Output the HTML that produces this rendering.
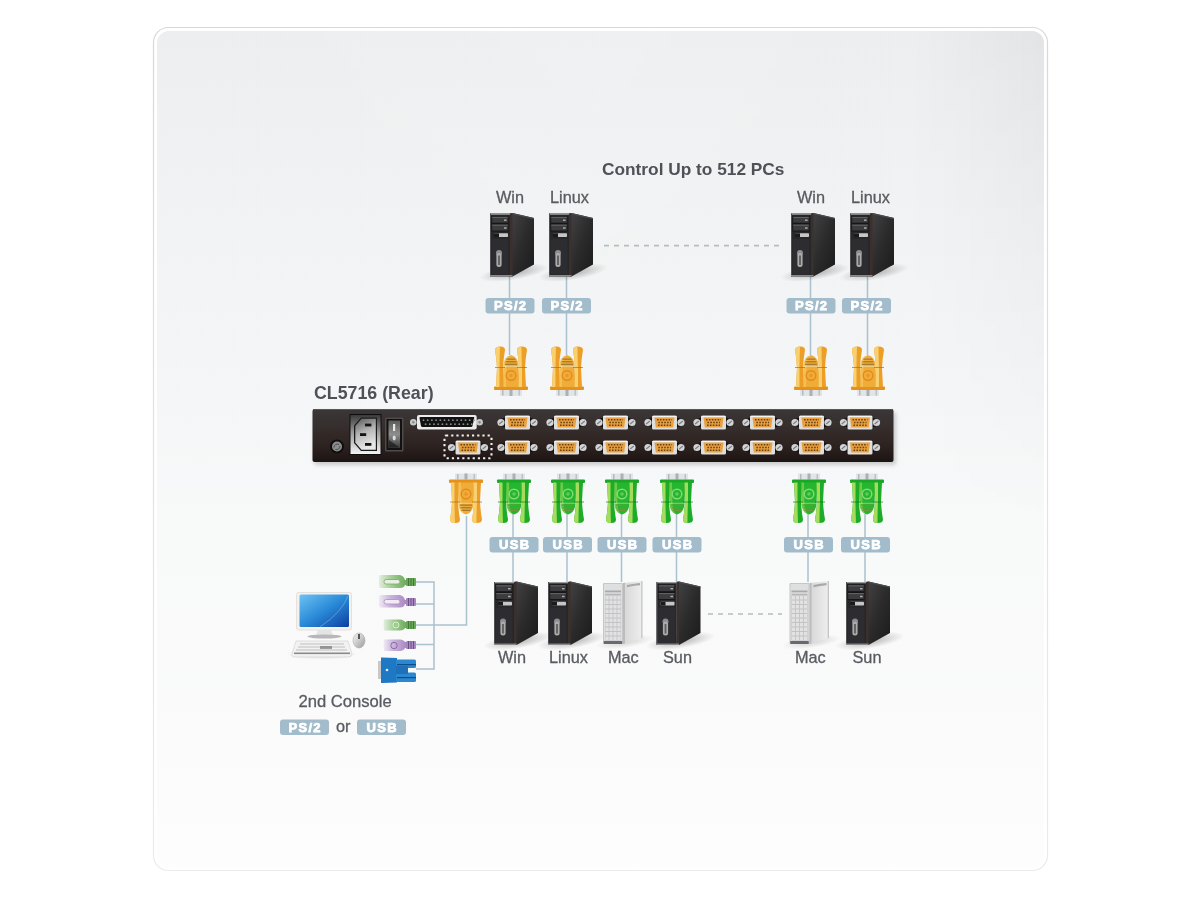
<!DOCTYPE html>
<html><head><meta charset="utf-8">
<style>
html,body{margin:0;padding:0;background:#fff;width:1200px;height:900px;overflow:hidden}
svg{position:absolute;left:0;top:0;display:block;will-change:transform}
text{font-family:"Liberation Sans",sans-serif}
.lbl{font-size:16.3px;fill:#585c61;stroke:#585c61;stroke-width:0.3px}
.ttl{font-size:17.3px;font-weight:bold;fill:#4e5257}
.bt{font-size:13px;font-weight:bold;fill:#fff;letter-spacing:1.3px;stroke:#fff;stroke-width:0.75px}
</style></head>
<body>
<svg width="1200" height="900" viewBox="0 0 1200 900">
<defs>
  <linearGradient id="panelG" x1="0" y1="0" x2="0" y2="1">
    <stop offset="0" stop-color="#eceef0"/>
    <stop offset="0.25" stop-color="#f1f3f4"/>
    <stop offset="0.45" stop-color="#f5f6f7"/>
    <stop offset="0.6" stop-color="#f8f9f9"/>
    <stop offset="0.8" stop-color="#fafafa"/>
    <stop offset="1" stop-color="#fdfdfd"/>
  </linearGradient>
  <linearGradient id="barG" x1="0" y1="0" x2="0" y2="1">
    <stop offset="0" stop-color="#3a3737"/>
    <stop offset="0.35" stop-color="#352e2c"/>
    <stop offset="0.7" stop-color="#2d2220"/>
    <stop offset="1" stop-color="#1c1413"/>
  </linearGradient>
  <linearGradient id="sideG" x1="0" y1="0" x2="1" y2="1">
    <stop offset="0" stop-color="#444345"/>
    <stop offset="0.5" stop-color="#2c2b2c"/>
    <stop offset="1" stop-color="#1c1b1c"/>
  </linearGradient>
  <linearGradient id="macSideG" x1="0" y1="0" x2="1" y2="0">
    <stop offset="0" stop-color="#d6d6d7"/>
    <stop offset="1" stop-color="#eeeeef"/>
  </linearGradient>
  <linearGradient id="sockG" x1="0" y1="0" x2="0.3" y2="1">
    <stop offset="0" stop-color="#5a5a5a"/>
    <stop offset="0.5" stop-color="#b4b4b4"/>
    <stop offset="1" stop-color="#e8e8e8"/>
  </linearGradient>
  <linearGradient id="frameG" x1="0" y1="0" x2="0" y2="1">
    <stop offset="0" stop-color="#3a3a3a"/>
    <stop offset="0.45" stop-color="#9c9c9c"/>
    <stop offset="1" stop-color="#f4f4f4"/>
  </linearGradient>
  <linearGradient id="rockG" x1="0" y1="0" x2="0" y2="1">
    <stop offset="0" stop-color="#5a5a5a"/>
    <stop offset="0.5" stop-color="#8e8e8e"/>
    <stop offset="1" stop-color="#3a3a3a"/>
  </linearGradient>
  <linearGradient id="scrG" x1="0" y1="0" x2="1" y2="1">
    <stop offset="0" stop-color="#6cc2f2"/>
    <stop offset="0.5" stop-color="#2a8ad8"/>
    <stop offset="1" stop-color="#0c3ea0"/>
  </linearGradient>
  <linearGradient id="mouseG" x1="0" y1="0" x2="1" y2="1">
    <stop offset="0" stop-color="#f8f8f8"/>
    <stop offset="1" stop-color="#9a9a9a"/>
  </linearGradient>
  <linearGradient id="cgG" x1="0" y1="0" x2="1" y2="0">
    <stop offset="0" stop-color="#e4eee0"/>
    <stop offset="0.4" stop-color="#a8d09a"/>
    <stop offset="1" stop-color="#6aa85a"/>
  </linearGradient>
  <linearGradient id="cpG" x1="0" y1="0" x2="1" y2="0">
    <stop offset="0" stop-color="#f0eaf4"/>
    <stop offset="0.4" stop-color="#cab4dc"/>
    <stop offset="1" stop-color="#a888c0"/>
  </linearGradient>
  <filter id="blur3" x="-5%" y="-30%" width="110%" height="160%"><feGaussianBlur stdDeviation="2"/></filter>
  <linearGradient id="borderG" x1="0" y1="0" x2="0" y2="1">
    <stop offset="0" stop-color="#d8d8d8"/>
    <stop offset="1" stop-color="#ebebeb"/>
  </linearGradient>
  <linearGradient id="vigG" x1="0" y1="0" x2="1" y2="0">
    <stop offset="0" stop-color="#fff" stop-opacity="0"/>
    <stop offset="0.5" stop-color="#fff" stop-opacity="0.15"/>
    <stop offset="0.85" stop-color="#fff" stop-opacity="0"/>
    <stop offset="0.85" stop-color="#000" stop-opacity="0"/>
    <stop offset="1" stop-color="#000" stop-opacity="0.04"/>
  </linearGradient>
  <linearGradient id="vigMG" x1="0" y1="0" x2="0" y2="1">
    <stop offset="0" stop-color="#fff"/>
    <stop offset="0.6" stop-color="#000"/>
  </linearGradient>
  <mask id="vigM" maskUnits="userSpaceOnUse" x="150" y="25" width="900" height="850"><rect x="150" y="25" width="900" height="850" fill="url(#vigMG)"/></mask>
  <radialGradient id="shadowG" cx="0.5" cy="0.5" r="0.5">
    <stop offset="0" stop-color="#000" stop-opacity="0.28"/>
    <stop offset="1" stop-color="#000" stop-opacity="0"/>
  </radialGradient>

  <!-- black tower: origin = front top-left -->
  <g id="tower">
    <ellipse cx="24" cy="59" rx="35" ry="7.5" fill="url(#shadowG)" transform="rotate(-9 24 59)"/>
    <path d="M20,0 L22.5,-0.5 L44,4.5 L44,51 L22.5,63 L20,63 Z" fill="url(#sideG)"/>
    <path d="M20,0 L22.5,-0.5 L22.5,63 L20,63 Z" fill="#3b302b"/>
    <path d="M22.5,-0.5 L44,4.5 L44,5.8 L22.5,0.8 Z" fill="#4c4c4e"/>
    <rect x="0" y="0" width="20" height="63" fill="#27272a"/>
    <rect x="0" y="0" width="20" height="1.3" fill="#9c9c9c"/>
    <rect x="0" y="0" width="1" height="63" fill="#505052"/>
    <rect x="1.5" y="2.5" width="17" height="15.5" fill="#161617"/>
    <rect x="2.2" y="3.2" width="15.6" height="6" fill="#3c3c3f"/>
    <rect x="2.2" y="3.4" width="15.6" height="0.9" fill="#6a6a6e"/>
    <rect x="14" y="6" width="2.6" height="1.4" fill="#b0b0b0"/>
    <rect x="2.2" y="11" width="15.6" height="6" fill="#3c3c3f"/>
    <rect x="2.2" y="11.2" width="15.6" height="0.9" fill="#6a6a6e"/>
    <rect x="14" y="13.8" width="2.6" height="1.4" fill="#b0b0b0"/>
    <rect x="4" y="19.8" width="14" height="3.8" rx="0.8" fill="#c6c6c6"/>
    <rect x="4" y="19.8" width="5" height="3.8" fill="#1a1a1a"/>
    <rect x="1.5" y="25.5" width="17" height="35.5" fill="#2d2d31"/>
    <circle cx="9" cy="39.5" r="3" fill="#8e8e8e"/>
    <rect x="6.4" y="39.5" width="5.2" height="14" rx="2.5" fill="#ababab"/>
    <rect x="8.1" y="42" width="1.8" height="9.5" fill="#5e5e5e"/>
    <rect x="0" y="61.5" width="22.5" height="1.5" fill="#8a8a8a"/>
  </g>

  <!-- mac tower -->
  <g id="mac">
    <ellipse cx="22" cy="59" rx="30" ry="6" fill="url(#shadowG)" opacity="0.55" transform="rotate(-8 22 59)"/>
    <path d="M20,0 L39,-2 L39,55 L20,61 Z" fill="url(#macSideG)"/>
    <path d="M38.2,-2 L39.5,-2 L39.5,55 L38.2,55.4 Z" fill="#c4c4c4"/>
    <path d="M20,0 L22,-0.2 L22,60.4 L20,61 Z" fill="#bcbcbd"/>
    <path d="M24,2 Q31,0.3 37,0 L37,2.2 Q31,2.6 24,4.2 Z" fill="#a8a8aa"/>
    <rect x="0" y="0" width="20" height="61" rx="1.2" fill="#c6c6c7"/>
    <rect x="1" y="1" width="18" height="57" fill="#dedfe0"/>
    <rect x="2" y="7.5" width="16" height="1.8" fill="#a9a9ab"/>
    <rect x="2" y="10.8" width="16" height="1.5" fill="#b6b6b8"/>
    <rect x="2" y="12.5" width="16" height="45" fill="#c2c2c4"/>
    <g fill="#e2e2e3"><rect x="2.4" y="13.0" width="3.2" height="3.5"/><rect x="6.4" y="13.0" width="3.2" height="3.5"/><rect x="10.4" y="13.0" width="3.2" height="3.5"/><rect x="14.4" y="13.0" width="3.2" height="3.5"/><rect x="2.4" y="17.5" width="3.2" height="3.5"/><rect x="6.4" y="17.5" width="3.2" height="3.5"/><rect x="10.4" y="17.5" width="3.2" height="3.5"/><rect x="14.4" y="17.5" width="3.2" height="3.5"/><rect x="2.4" y="22.0" width="3.2" height="3.5"/><rect x="6.4" y="22.0" width="3.2" height="3.5"/><rect x="10.4" y="22.0" width="3.2" height="3.5"/><rect x="14.4" y="22.0" width="3.2" height="3.5"/><rect x="2.4" y="26.5" width="3.2" height="3.5"/><rect x="6.4" y="26.5" width="3.2" height="3.5"/><rect x="10.4" y="26.5" width="3.2" height="3.5"/><rect x="14.4" y="26.5" width="3.2" height="3.5"/><rect x="2.4" y="31.0" width="3.2" height="3.5"/><rect x="6.4" y="31.0" width="3.2" height="3.5"/><rect x="10.4" y="31.0" width="3.2" height="3.5"/><rect x="14.4" y="31.0" width="3.2" height="3.5"/><rect x="2.4" y="35.5" width="3.2" height="3.5"/><rect x="6.4" y="35.5" width="3.2" height="3.5"/><rect x="10.4" y="35.5" width="3.2" height="3.5"/><rect x="14.4" y="35.5" width="3.2" height="3.5"/><rect x="2.4" y="40.0" width="3.2" height="3.5"/><rect x="6.4" y="40.0" width="3.2" height="3.5"/><rect x="10.4" y="40.0" width="3.2" height="3.5"/><rect x="14.4" y="40.0" width="3.2" height="3.5"/><rect x="2.4" y="44.5" width="3.2" height="3.5"/><rect x="6.4" y="44.5" width="3.2" height="3.5"/><rect x="10.4" y="44.5" width="3.2" height="3.5"/><rect x="14.4" y="44.5" width="3.2" height="3.5"/><rect x="2.4" y="49.0" width="3.2" height="3.5"/><rect x="6.4" y="49.0" width="3.2" height="3.5"/><rect x="10.4" y="49.0" width="3.2" height="3.5"/><rect x="14.4" y="49.0" width="3.2" height="3.5"/><rect x="2.4" y="53.5" width="3.2" height="3.5"/><rect x="6.4" y="53.5" width="3.2" height="3.5"/><rect x="10.4" y="53.5" width="3.2" height="3.5"/><rect x="14.4" y="53.5" width="3.2" height="3.5"/></g>
    <rect x="0.8" y="58" width="18.4" height="3" fill="#6a6a6c"/>
  </g>

  <!-- connector (plate on top, posts hanging down). origin top-left of plate, width 34 -->
  <g id="connG">
    <rect x="6" y="-6" width="22" height="6" fill="#e2e5e8"/>
    <rect x="8" y="-5.5" width="1.5" height="5.5" fill="#b4bac0"/><rect x="15.5" y="-6" width="3" height="6" fill="#aab0b6"/><rect x="24.5" y="-5.5" width="1.5" height="5.5" fill="#bcc2c8"/>
    <rect x="0" y="0" width="34" height="3.5" rx="1" fill="#1aa626"/>
    <path d="M8.5,3 L25.5,3 L24.5,24 Q24,33 17,35 Q10,33 9.5,24 Z" fill="#25b52e"/>
    <path d="M8.5,3 L12,3 L12.5,24 Q13,31 15,34 Q10,33 9.5,24 Z" fill="#a6dc5e" opacity="0.55"/>
    <circle cx="17" cy="14.5" r="4.8" fill="none" stroke="#86dc78" stroke-width="1.4"/>
    <circle cx="17" cy="14.5" r="1.8" fill="#86dc78" opacity="0.6"/>
    <g fill="#6a9a3a"><rect x="11" y="25" width="12" height="1.3"/><rect x="11.5" y="27.6" width="11" height="1.3"/><rect x="12.5" y="30.2" width="9" height="1.3"/></g>
    <rect x="9" y="23.3" width="16" height="0.9" fill="#e8fff0" opacity="0.5"/>
    <path d="M2,3 L9.5,3 L9,22 Q9.5,32 11,40 Q11,43.5 6.5,43.5 Q1,43.5 1,40 Q2.5,32 3,22 Z" fill="#1cac28"/>
    <path d="M2,3 L5.5,3 L5.5,22 Q5.5,32 6,43.5 Q1,43.5 1,40 Q2.5,32 3,22 Z" fill="#a6dc5e"/>
    <path d="M24.5,3 L32,3 L31,22 Q31.5,32 33,40 Q33,43.5 27.5,43.5 Q23,43.5 23,40 Q24.5,32 25,22 Z" fill="#1cac28"/>
    <path d="M24.5,3 L28,3 L28,22 Q27.5,32 27.5,43.5 Q23,43.5 23,40 Q24.5,32 25,22 Z" fill="#a6dc5e"/>
    <rect x="1" y="22" width="10" height="1" fill="#0d7a18" opacity="0.7"/>
    <rect x="23" y="22" width="10" height="1" fill="#0d7a18" opacity="0.7"/>
  </g>
  <g id="connO">
    <rect x="6" y="-6" width="22" height="6" fill="#e2e5e8"/>
    <rect x="8" y="-5.5" width="1.5" height="5.5" fill="#b4bac0"/><rect x="15.5" y="-6" width="3" height="6" fill="#aab0b6"/><rect x="24.5" y="-5.5" width="1.5" height="5.5" fill="#bcc2c8"/>
    <rect x="0" y="0" width="34" height="3.5" rx="1" fill="#e4921c"/>
    <path d="M8.5,3 L25.5,3 L24.5,24 Q24,33 17,35 Q10,33 9.5,24 Z" fill="#f0ac38"/>
    <path d="M8.5,3 L12,3 L12.5,24 Q13,31 15,34 Q10,33 9.5,24 Z" fill="#f8d070" opacity="0.55"/>
    <circle cx="17" cy="14.5" r="4.8" fill="none" stroke="#e48a1e" stroke-width="1.4"/>
    <circle cx="17" cy="14.5" r="1.8" fill="#e48a1e" opacity="0.6"/>
    <g fill="#a87a2a"><rect x="11" y="25" width="12" height="1.3"/><rect x="11.5" y="27.6" width="11" height="1.3"/><rect x="12.5" y="30.2" width="9" height="1.3"/></g>
    <rect x="9" y="23.3" width="16" height="0.9" fill="#e8fff0" opacity="0.5"/>
    <path d="M2,3 L9.5,3 L9,22 Q9.5,32 11,40 Q11,43.5 6.5,43.5 Q1,43.5 1,40 Q2.5,32 3,22 Z" fill="#ec9e26"/>
    <path d="M2,3 L5.5,3 L5.5,22 Q5.5,32 6,43.5 Q1,43.5 1,40 Q2.5,32 3,22 Z" fill="#f8d070"/>
    <path d="M24.5,3 L32,3 L31,22 Q31.5,32 33,40 Q33,43.5 27.5,43.5 Q23,43.5 23,40 Q24.5,32 25,22 Z" fill="#ec9e26"/>
    <path d="M24.5,3 L28,3 L28,22 Q27.5,32 27.5,43.5 Q23,43.5 23,40 Q24.5,32 25,22 Z" fill="#f8d070"/>
    <rect x="1" y="22" width="10" height="1" fill="#b86a10" opacity="0.7"/>
    <rect x="23" y="22" width="10" height="1" fill="#b86a10" opacity="0.7"/>
  </g>
  
  <!-- VGA port on bar: origin = body top-left, body 25x14 -->
  <g id="port">
    <ellipse cx="12.5" cy="7" rx="19.5" ry="6.5" fill="#141110"/>
    <circle cx="-4" cy="7" r="3.6" fill="#d2d4d6"/><path d="M-5.8,8.5 L-2.2,5.5" stroke="#7a7e82" stroke-width="1.1"/>
    <circle cx="29" cy="7" r="3.6" fill="#d2d4d6"/><path d="M27.2,8.5 L30.8,5.5" stroke="#7a7e82" stroke-width="1.1"/>
    <rect x="0" y="0" width="25" height="14" rx="1.5" fill="#dededc"/>
    <rect x="0.5" y="0.5" width="24" height="1" fill="#f4f4f2"/>
    <path d="M2.5,2 L22.5,2 L21.2,12 L3.8,12 Z" fill="#e8a040"/>
    <g stroke="#6a4210" stroke-width="1.6" stroke-dasharray="1.6,1.3">
      <line x1="5" y1="4.3" x2="20" y2="4.3"/><line x1="6.4" y1="7" x2="19" y2="7"/><line x1="6" y1="9.7" x2="19" y2="9.7"/>
    </g>
  </g>

  <g id="badgePS">
    <rect x="0" y="0" width="49" height="15.5" rx="3" fill="#a3bccb"/>
    <text x="25.2" y="12.2" text-anchor="middle" class="bt">PS/2</text>
  </g>
  <g id="badgeUSB">
    <rect x="0" y="0" width="49" height="15.5" rx="3" fill="#a3bccb"/>
    <text x="25.2" y="12.2" text-anchor="middle" class="bt">USB</text>
  </g>
</defs>

<!-- panel -->
<rect x="153.5" y="27.5" width="894" height="843" rx="15" fill="#fff" stroke="url(#borderG)" stroke-width="1.2"/>
<rect x="157" y="31" width="887" height="836" rx="12" fill="url(#panelG)"/>
<rect x="157" y="31" width="887" height="836" rx="12" fill="url(#vigG)" mask="url(#vigM)"/>

<!-- title -->
<text x="602" y="175" class="ttl">Control Up to 512 PCs</text>
<text x="314" y="399" class="ttl" style="font-size:17.8px">CL5716 (Rear)</text>

<!-- top labels -->
<text x="496" y="203" class="lbl">Win</text>
<text x="550" y="203" class="lbl">Linux</text>
<text x="797" y="203" class="lbl">Win</text>
<text x="851" y="203" class="lbl">Linux</text>

<!-- cables top -->
<g stroke="#abc1ce" stroke-width="1.5">
  <line x1="509.5" y1="276" x2="509.5" y2="355"/>
  <line x1="566.5" y1="276" x2="566.5" y2="355"/>
  <line x1="810.5" y1="276" x2="810.5" y2="355"/>
  <line x1="867.5" y1="276" x2="867.5" y2="355"/>
</g>
<line x1="604" y1="245.6" x2="782" y2="245.6" stroke="#b3bdc2" stroke-width="1.6" stroke-dasharray="5,5"/>

<!-- top towers -->
<use href="#tower" x="490" y="213.5"/>
<use href="#tower" x="549" y="213.5"/>
<use href="#tower" x="791" y="213.5"/>
<use href="#tower" x="850" y="213.5"/>

<use href="#badgePS" x="485.5" y="298"/>
<use href="#badgePS" x="542" y="298"/>
<use href="#badgePS" x="786.5" y="298"/>
<use href="#badgePS" x="842" y="298"/>

<!-- top connectors (flipped) -->
<g transform="translate(494,390) scale(1,-1)"><use href="#connO"/></g>
<g transform="translate(550,390) scale(1,-1)"><use href="#connO"/></g>
<g transform="translate(794,390) scale(1,-1)"><use href="#connO"/></g>
<g transform="translate(851,390) scale(1,-1)"><use href="#connO"/></g>

<!-- device bar -->
<rect x="314" y="412" width="582" height="53" rx="3" fill="#000" opacity="0.18" filter="url(#blur3)"/>
<rect x="312.5" y="409" width="581" height="53" rx="2" fill="url(#barG)"/>
<rect x="313" y="409" width="580" height="1" fill="#5a5452"/>

<!-- bar contents -->
<g>
  <circle cx="337" cy="446.5" r="7" fill="#100e0d"/>
  <circle cx="337" cy="446.5" r="5" fill="#8a8c8e"/>
  <path d="M333.8,447.5 Q335,443 339,444.5 M340,446 Q339.5,450 335.5,449.5" stroke="#4a4a4a" stroke-width="1" fill="none"/>
  <!-- power socket -->
  <rect x="349.5" y="414" width="32" height="41" fill="#0e0e0e"/>
  <rect x="350.5" y="415" width="30" height="39" fill="url(#frameG)"/>
  <path d="M361,417.5 L377,417.5 L377,451 L361,451 L354,443 L354,425.5 Z" fill="#1a1a1a"/>
  <path d="M361.5,418.8 L375.8,418.8 L375.8,449.7 L361.5,449.7 L355.3,442.5 L355.3,426 Z" fill="url(#sockG)"/>
  <rect x="365" y="423.6" width="6.4" height="2.8" fill="#141414"/>
  <rect x="360" y="433.2" width="6.2" height="2.8" fill="#141414"/>
  <rect x="365" y="443" width="6.4" height="2.8" fill="#141414"/>
  <!-- switch -->
  <rect x="385" y="417.5" width="18.5" height="34" rx="1.5" fill="#4e4b4a"/>
  <rect x="386.5" y="419" width="15.5" height="31" fill="#121212"/>
  <path d="M388.5,420.5 L400,420.5 L400,448 L388.5,448 Z" fill="url(#rockG)"/>
  <rect x="393" y="424" width="2.2" height="7" fill="#e8e8e8"/>
  <ellipse cx="394.2" cy="438" rx="1.6" ry="2.4" fill="#dcdcdc"/>
  <path d="M389,440 L399.5,447.5 L389,447.5 Z" fill="#1a1a1a" opacity="0.7"/>
  <!-- db25 -->
  <circle cx="413.3" cy="422.2" r="3.3" fill="#c8cacc"/><circle cx="413.3" cy="422.2" r="1.2" fill="#8a8a8a"/>
  <circle cx="479.6" cy="422.2" r="3.3" fill="#c8cacc"/><circle cx="479.6" cy="422.2" r="1.2" fill="#8a8a8a"/>
  <rect x="417" y="415" width="59.7" height="14.6" rx="2" fill="#ececec"/>
  <path d="M420.5,417 L473.5,417 Q474.5,417 474.2,418 L472.5,426 Q472.2,427 471,427 L422.5,427 Q421.3,427 421,426 L419.5,418 Q419.3,417 420.5,417 Z" fill="#121212"/>
  <g fill="#8c8c8c"><circle cx="423.5" cy="420.2" r="0.9"/><circle cx="427.7" cy="420.2" r="0.9"/><circle cx="431.9" cy="420.2" r="0.9"/><circle cx="436.1" cy="420.2" r="0.9"/><circle cx="440.3" cy="420.2" r="0.9"/><circle cx="444.5" cy="420.2" r="0.9"/><circle cx="448.7" cy="420.2" r="0.9"/><circle cx="452.9" cy="420.2" r="0.9"/><circle cx="457.1" cy="420.2" r="0.9"/><circle cx="461.3" cy="420.2" r="0.9"/><circle cx="465.5" cy="420.2" r="0.9"/><circle cx="469.7" cy="420.2" r="0.9"/><circle cx="473.9" cy="420.2" r="0.9"/><circle cx="425.6" cy="424.2" r="0.9"/><circle cx="429.8" cy="424.2" r="0.9"/><circle cx="434.0" cy="424.2" r="0.9"/><circle cx="438.2" cy="424.2" r="0.9"/><circle cx="442.4" cy="424.2" r="0.9"/><circle cx="446.6" cy="424.2" r="0.9"/><circle cx="450.8" cy="424.2" r="0.9"/><circle cx="455.0" cy="424.2" r="0.9"/><circle cx="459.2" cy="424.2" r="0.9"/><circle cx="463.4" cy="424.2" r="0.9"/><circle cx="467.6" cy="424.2" r="0.9"/><circle cx="471.8" cy="424.2" r="0.9"/></g>
  <!-- dotted console box -->
  <rect x="444.5" y="435.5" width="47" height="22.8" rx="1.5" fill="none" stroke="#f0f0f0" stroke-width="2.1" stroke-dasharray="2.2,3"/>
  <use href="#port" x="455.5" y="440.5"/>
  <!-- ports -->
  <use href="#port" x="505" y="415.5"/><use href="#port" x="554" y="415.5"/><use href="#port" x="603" y="415.5"/><use href="#port" x="652" y="415.5"/>
  <use href="#port" x="701" y="415.5"/><use href="#port" x="750" y="415.5"/><use href="#port" x="799" y="415.5"/><use href="#port" x="847.5" y="415.5"/>
  <use href="#port" x="505" y="440.5"/><use href="#port" x="554" y="440.5"/><use href="#port" x="603" y="440.5"/><use href="#port" x="652" y="440.5"/>
  <use href="#port" x="701" y="440.5"/><use href="#port" x="750" y="440.5"/><use href="#port" x="799" y="440.5"/><use href="#port" x="847.5" y="440.5"/>
</g>

<!-- bottom cables -->
<g stroke="#abc1ce" stroke-width="1.5" fill="none">
  <line x1="513" y1="514" x2="513" y2="582"/>
  <line x1="567" y1="514" x2="567" y2="582"/>
  <line x1="621.5" y1="514" x2="621.5" y2="582"/>
  <line x1="676.5" y1="514" x2="676.5" y2="582"/>
  <line x1="808" y1="514" x2="808" y2="582"/>
  <line x1="865" y1="514" x2="865" y2="582"/>
  <polyline points="466.5,516 466.5,625 416,625"/>
  <polyline points="416,582 434,582 434,669 416,669"/>
  <line x1="416" y1="604" x2="434" y2="604"/>
  <line x1="416" y1="644.5" x2="434" y2="644.5"/>
</g>
<line x1="708" y1="614" x2="782" y2="614" stroke="#b3bdc2" stroke-width="1.6" stroke-dasharray="5,5"/>

<!-- bottom connectors -->
<use href="#connO" x="449" y="479.5"/>
<use href="#connG" x="497" y="479.5"/>
<use href="#connG" x="551" y="479.5"/>
<use href="#connG" x="605" y="479.5"/>
<use href="#connG" x="660" y="479.5"/>
<use href="#connG" x="792" y="479.5"/>
<use href="#connG" x="850" y="479.5"/>

<use href="#badgeUSB" x="489.5" y="537"/>
<use href="#badgeUSB" x="543" y="537"/>
<use href="#badgeUSB" x="597.5" y="537"/>
<use href="#badgeUSB" x="652.5" y="537"/>
<use href="#badgeUSB" x="784" y="537"/>
<use href="#badgeUSB" x="841" y="537"/>

<!-- bottom towers -->
<use href="#tower" x="494" y="582"/>
<use href="#tower" x="548" y="582"/>
<use href="#mac" x="603" y="583"/>
<use href="#tower" x="656.5" y="582"/>
<use href="#mac" x="789.5" y="583"/>
<use href="#tower" x="846" y="582"/>

<text x="498" y="663" class="lbl">Win</text>
<text x="549" y="663" class="lbl">Linux</text>
<text x="608" y="663" class="lbl">Mac</text>
<text x="663" y="663" class="lbl">Sun</text>
<text x="795" y="663" class="lbl">Mac</text>
<text x="852.5" y="663" class="lbl">Sun</text>


<!-- console pc -->
<g>
  <ellipse cx="322" cy="654" rx="36" ry="6" fill="url(#shadowG)" opacity="0.5"/>
  <rect x="296.5" y="592.5" width="55" height="37.5" rx="2" fill="#f4f2f0" stroke="#e2dcd6" stroke-width="0.8"/>
  <rect x="299.5" y="594.5" width="49.5" height="32.5" rx="1.5" fill="url(#scrG)"/>
  <path d="M320,627 Q342,612 348,596" stroke="#8cc4f0" stroke-width="0.7" fill="none" opacity="0.7"/>
  <path d="M318,630 L331,630 L333,635 L316,635 Z" fill="#e4e4e4"/>
  <ellipse cx="324.5" cy="636.5" rx="17" ry="2" fill="#b8b8b8"/>
  <path d="M296,641 L348,641 L352,654 Q352,657 348,657 L295,657 Q291,657 292,654 Z" fill="#f2f2f2" stroke="#cfcfcf" stroke-width="0.6"/>
  <g fill="#bdbdbd">
    <rect x="300" y="643.5" width="44" height="1"/>
    <rect x="298" y="646.5" width="47" height="1"/>
    <rect x="296" y="649.5" width="51" height="1"/>
  </g>
  <rect x="294" y="652.5" width="56" height="1.6" fill="#8a8a8a"/>
  <rect x="320" y="646" width="12" height="3" fill="#666" opacity="0.6"/>
  <ellipse cx="359" cy="640.5" rx="6" ry="7.5" fill="url(#mouseG)" stroke="#aaa" stroke-width="0.6"/>
  <rect x="358" y="634" width="2" height="5" fill="#555"/>
</g>
<!-- console connectors -->
<g>
  <!-- green usb -->
  <path d="M381,575 L400,575 Q404,576 405,580 L407,580 L407,585 L405,585 Q404,588 400,588 L381,588 Q379,588 379,586 L379,577 Q379,575 381,575 Z" fill="url(#cgG)"/>
  <rect x="406" y="578" width="10" height="8" rx="1" fill="#6aa85a"/>
  <g fill="#3f7a35"><rect x="408" y="578" width="1" height="8"/><rect x="410.5" y="578" width="1" height="8"/><rect x="413" y="578" width="1" height="8"/></g>
  <rect x="384" y="579.5" width="16" height="4.5" rx="2.2" fill="#e8f0e4" stroke="#7aa86a" stroke-width="0.8"/>
  <!-- purple usb -->
  <path d="M381,595 L400,595 Q404,596 405,600 L407,600 L407,604 L405,604 Q404,607.5 400,607.5 L381,607.5 Q379,607.5 379,605.5 L379,597 Q379,595 381,595 Z" fill="url(#cpG)"/>
  <rect x="406" y="598" width="10" height="8" rx="1" fill="#a888c0"/>
  <g fill="#6e5088"><rect x="408" y="598" width="1" height="8"/><rect x="410.5" y="598" width="1" height="8"/><rect x="413" y="598" width="1" height="8"/></g>
  <rect x="384" y="599.5" width="16" height="4.5" rx="2.2" fill="#f2eaf6" stroke="#a890c0" stroke-width="0.8"/>
  <!-- green ps2 -->
  <path d="M384,619.5 L400,619.5 Q404,620 405,622 L407,622 L407,628 L405,628 Q404,630 400,630.5 L384,630.5 Q383,625 384,619.5 Z" fill="url(#cgG)"/>
  <rect x="406" y="621" width="10" height="8" rx="1" fill="#6aa85a"/>
  <g fill="#3f7a35"><rect x="408" y="621" width="1" height="8"/><rect x="410.5" y="621" width="1" height="8"/><rect x="413" y="621" width="1" height="8"/></g>
  <circle cx="396" cy="625" r="3" fill="#9ad08a" stroke="#e8f4e0" stroke-width="0.8"/>
  <!-- purple ps2 -->
  <path d="M384,639.5 L400,639.5 Q404,640 405,642 L407,642 L407,648 L405,648 Q404,650.5 400,651 L384,651 Q383,645 384,639.5 Z" fill="url(#cpG)"/>
  <rect x="406" y="641" width="10" height="8" rx="1" fill="#a888c0"/>
  <g fill="#6e5088"><rect x="408" y="641" width="1" height="8"/><rect x="410.5" y="641" width="1" height="8"/><rect x="413" y="641" width="1" height="8"/></g>
  <circle cx="394" cy="645.5" r="3.2" fill="none" stroke="#8a6aa8" stroke-width="1"/>
  <!-- blue vga -->
  <rect x="378" y="661" width="4" height="18" fill="#c8c8c8"/>
  <path d="M381,657.5 L397,658 L397,682.5 L381,683 Z" fill="#1f78c4"/>
  <rect x="396" y="659.5" width="20" height="8.5" rx="1.5" fill="#2a88d0"/>
  <rect x="396" y="672.5" width="20" height="9.5" rx="1.5" fill="#2a88d0"/>
  <rect x="396" y="666" width="12" height="8" fill="#1f70b8"/>
  <g fill="#0e4c8a"><rect x="397" y="664" width="19" height="1.2"/><rect x="397" y="677" width="19" height="1.2"/></g>
  <circle cx="387" cy="670" r="1.3" fill="#dfefff"/>
</g>

<text x="298.5" y="707" class="lbl" style="font-size:16.6px">2nd Console</text>
<use href="#badgePS" x="280" y="719.5"/>
<text x="336" y="732" class="lbl">or</text>
<use href="#badgeUSB" x="357" y="719.5"/>

</svg>
</body></html>
